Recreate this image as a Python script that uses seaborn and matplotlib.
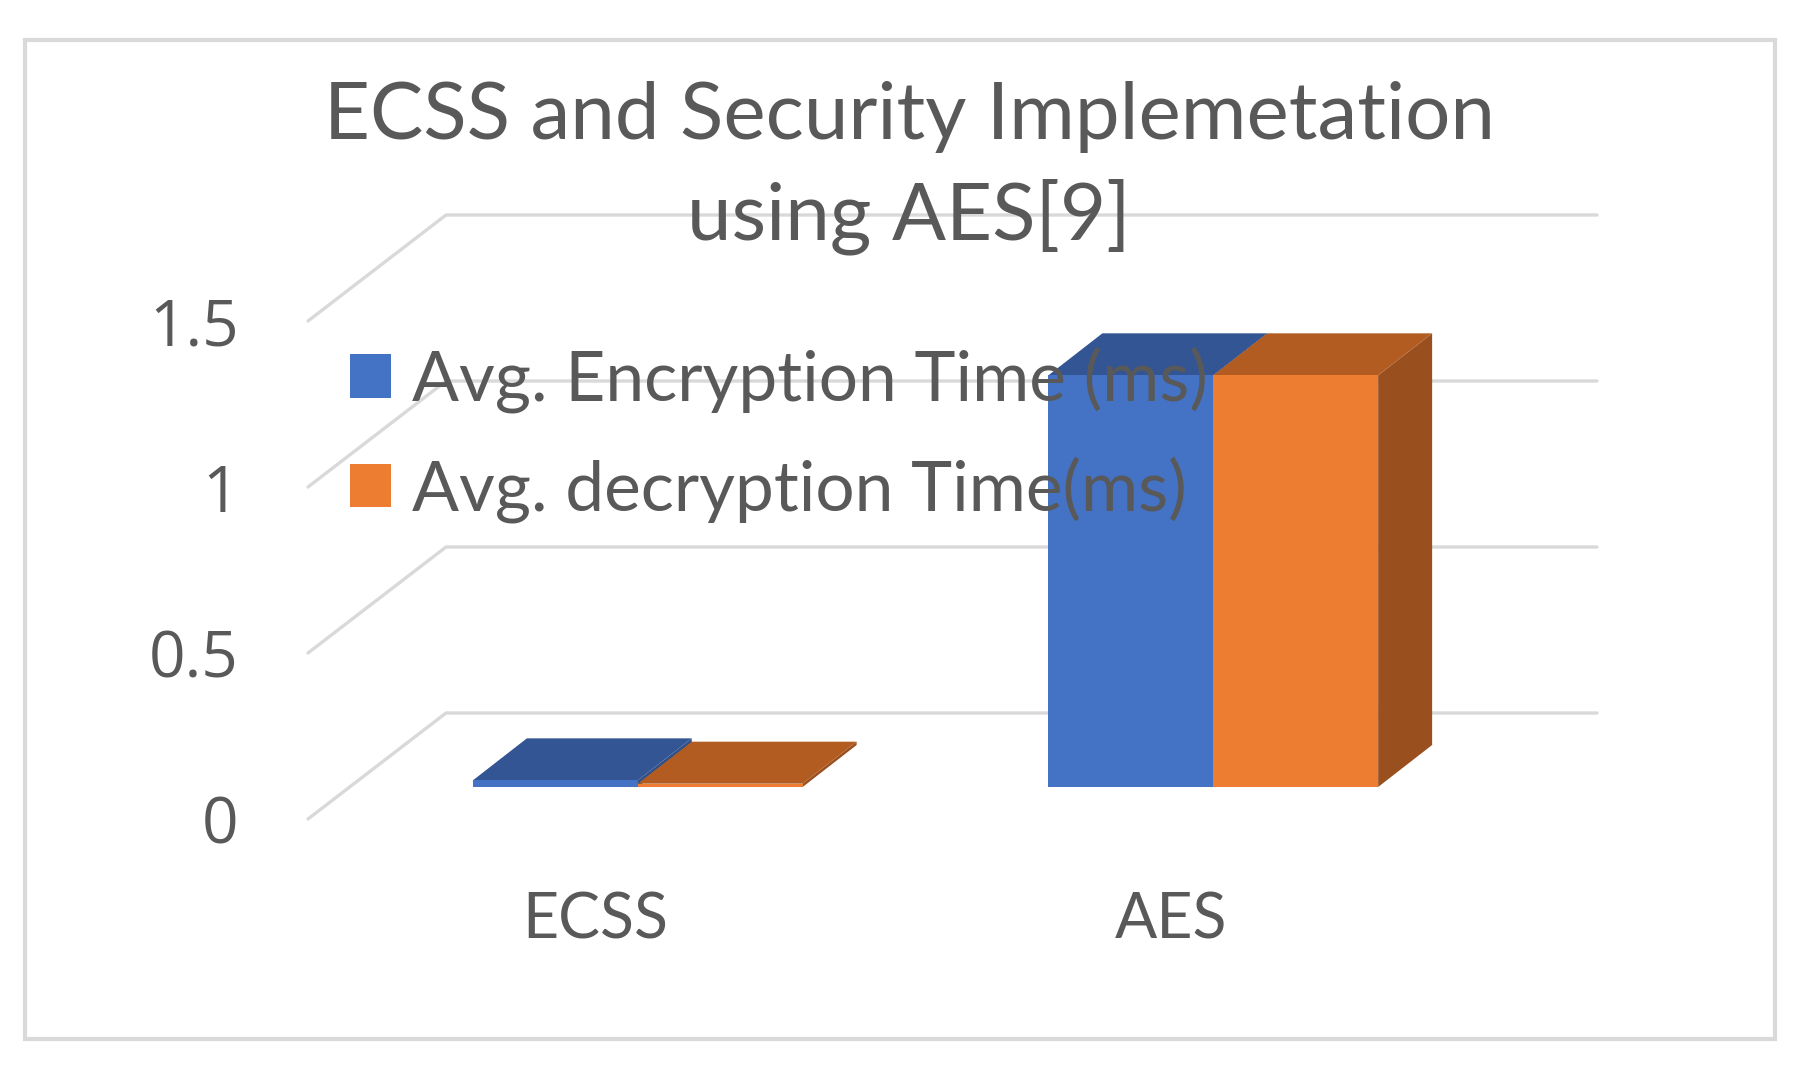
import numpy as np
import pandas as pd
import matplotlib
matplotlib.use("Agg")
import matplotlib.pyplot as plt
import seaborn as sns
from matplotlib.patches import Polygon, Rectangle, Patch
from matplotlib.lines import Line2D
from matplotlib.transforms import IdentityTransform, ScaledTranslation

# --- data ---
categories = ["ECSS", "AES"]
series = ["Avg. Encryption Time (ms)", "Avg. decryption Time(ms)"]
enc_time = [0.02, 1.24]
dec_time = [0.01, 1.24]
y_ticks = [0, 0.5, 1, 1.5]
y_tick_labels = ["0", "0.5", "1", "1.5"]
title = "ECSS and Security Implemetation\nusing AES[9]"

front_colors = ["#4472C4", "#ED7D31"]
top_colors = ["#335593", "#B35C22"]
side_colors = ["#2F5088", "#9A4F1E"]
text_color = "#595959"
grid_color = "#D9D9D9"

df = pd.DataFrame({
    "category": categories * 2,
    "series": [series[0]] * len(categories) + [series[1]] * len(categories),
    "time": enc_time + dec_time,
})

sns.set_style("white")
plt.rcParams["font.family"] = ["Lato", "DejaVu Sans"]

W, H = 1804, 1080
fig = plt.figure(figsize=(W / 100, H / 100), dpi=100)
# axes = front edge of the floor (pixel layout of the reference)
ax = fig.add_axes([308 / W, 1 - 819 / H, 1151 / W, 498 / H])

sns.barplot(data=df, x="category", y="time", hue="series", palette=front_colors,
            saturation=1, width=0.573, legend=False, linewidth=0, ax=ax, zorder=3)
ax.set_xlim(-0.5, 1.5)
ax.set_ylim(0, 1.5)
sns.despine(ax=ax, left=True, bottom=True)
ax.set_xlabel("")
ax.set_ylabel("")

# pseudo 3D depth vectors (pixels, x right / y up)
gap = np.array([42.0, 32.0])
depth = np.array([54.0, 42.0])
floor_depth = 2 * gap + depth
ident = IdentityTransform()

# walls: diagonal on the left side + horizontal line on the back wall
for v in y_ticks:
    p0 = ax.transData.transform((-0.5, v))
    p1 = p0 + floor_depth
    p2 = ax.transData.transform((1.5, v)) + floor_depth
    ln = Line2D([p0[0], p1[0], p2[0]], [p0[1], p1[1], p2[1]], color=grid_color,
                lw=2.4, transform=ident, zorder=1, solid_joinstyle="miter")
    ln.set_clip_on(False)
    ax.add_line(ln)

# move the seaborn bars back into the middle of the floor and add top/side faces
shift = ScaledTranslation(gap[0] / 100, gap[1] / 100, fig.dpi_scale_trans)
bars = list(ax.patches)
for i, bar in enumerate(bars):
    fc = matplotlib.colors.to_hex(bar.get_facecolor())
    k = [c.lower() for c in front_colors].index(fc.lower())
    x0, y0 = bar.get_x(), bar.get_y()
    x1, y1 = x0 + bar.get_width(), y0 + bar.get_height()
    br = ax.transData.transform((x1, y0)) + gap
    tl = ax.transData.transform((x0, y1)) + gap
    tr = ax.transData.transform((x1, y1)) + gap
    z = 3 + 0.1 * i
    side = Polygon([br, br + depth, tr + depth, tr], closed=True, fc=side_colors[k],
                   ec="none", transform=ident, zorder=z)
    top = Polygon([tl, tr, tr + depth, tl + depth], closed=True, fc=top_colors[k],
                  ec="none", transform=ident, zorder=z + 0.01)
    for p in (side, top):
        p.set_clip_on(False)
        ax.add_patch(p)
    bar.set_transform(ax.transData + shift)
    bar.set_clip_on(False)
    bar.set_zorder(z + 0.02)

# tick labels
ax.set_yticks(y_ticks)
ax.set_yticklabels(y_tick_labels, fontfamily=["Open Sans", "DejaVu Sans"])
ax.tick_params(axis="y", length=0, pad=50, labelsize=46, labelcolor=text_color)
ax.set_xticks(range(len(categories)))
ax.set_xticklabels(categories)
ax.tick_params(axis="x", length=0, pad=52, labelsize=45, labelcolor=text_color)

# legend
handles = [Patch(fc=c, ec="none") for c in front_colors]
leg = fig.legend(handles, series, loc="upper left",
                 bbox_to_anchor=(350 / W, 1 - 346 / H), frameon=False,
                 fontsize=50, handlelength=0.59, handleheight=0.59,
                 handletextpad=0.3, labelspacing=0.62, borderpad=0,
                 borderaxespad=0)
for t in leg.get_texts():
    t.set_color(text_color)
leg.set_zorder(10)

# title
fig.text(909 / W, 1 - 168 / H, title, ha="center", va="center", fontsize=57.5,
         color=text_color, linespacing=1.42)

# chart border
fig.add_artist(Rectangle((25 / W, 1 - 1039 / H), 1750 / W, 999 / H, fill=False,
                         ec=grid_color, lw=3, transform=fig.transFigure))

fig.savefig("out.png", dpi=100)
